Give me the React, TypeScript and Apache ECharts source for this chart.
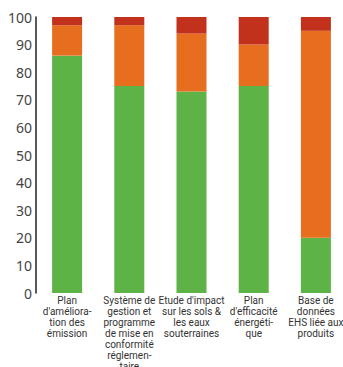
import React, { useEffect, useRef } from "react";
import * as echarts from "echarts";

const categories = [
  "Plan\nd'améliora-\ntion des\némission",
  "Système de\ngestion et\nprogramme\nde mise en\nconformité\nréglemen-\ntaire",
  "Etude d'impact\nsur les sols &\nles eaux\nsouterraines",
  "Plan\nd'efficacité\nénergéti-\nque",
  "Base de\ndonnées\nEHS liée aux\nproduits",
];
const greenValues = [86, 75, 73, 75, 20];
const orangeValues = [11, 22, 21, 15, 75];
const redValues = [3, 3, 6, 10, 5];
const yTicks = [0, 10, 20, 30, 40, 50, 60, 70, 80, 90, 100];

export default function App() {
  const ref = useRef<HTMLDivElement>(null);
  useEffect(() => {
    document.body.style.margin = "0";
    document.body.style.overflow = "hidden";
    const chart = echarts.init(ref.current!, null, { renderer: "svg" });
    chart.setOption({
      animation: false,
      grid: { left: 36, top: 17, right: 13, bottom: 74, containLabel: false, outerBoundsMode: "none" },
      xAxis: {
        type: "category",
        data: categories,
        axisLine: { show: false },
        axisTick: { show: false },
        axisLabel: {
          interval: 0,
          margin: 2,
          fontSize: 10,
          lineHeight: 11,
          color: "#333",
          fontFamily: "Roboto, sans-serif",
        },
      },
      yAxis: {
        type: "value",
        min: yTicks[0],
        max: yTicks[yTicks.length - 1],
        interval: 10,
        splitLine: { show: false },
        axisTick: { show: false },
        axisLine: { show: true, lineStyle: { color: "#222", width: 1.5 } },
        axisLabel: { margin: 4, fontSize: 14, color: "#444", fontFamily: "'Noto Sans', sans-serif" },
      },
      series: [
        { type: "bar", stack: "a", data: greenValues, barWidth: 30, itemStyle: { color: "#5DB346" } },
        { type: "bar", stack: "a", data: orangeValues, barWidth: 30, itemStyle: { color: "#E86E1F" } },
        { type: "bar", stack: "a", data: redValues, barWidth: 30, itemStyle: { color: "#C1311C" } },
      ],
    });
    return () => chart.dispose();
  }, []);
  return (
    <div style={{ width: 343, height: 367, overflow: "hidden", position: "relative" }}>
      <div ref={ref} style={{ position: "absolute", left: 0, top: 0, width: 360, height: 367 }} />
    </div>
  );
}
